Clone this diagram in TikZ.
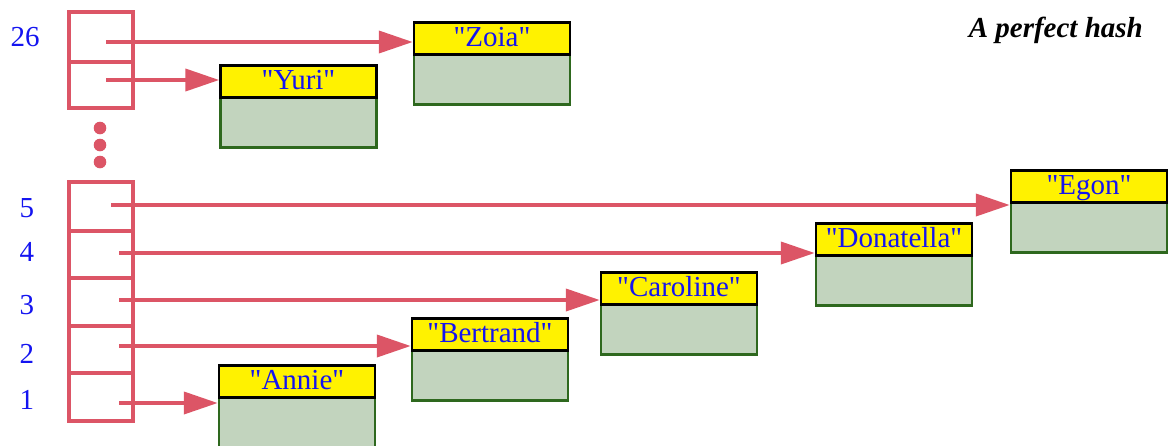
\documentclass[tikz,border=0pt]{standalone}
\usepackage{fontspec}
\setmainfont{Liberation Serif}[Ligatures=TeXOff]
\usetikzlibrary{arrows.meta}
\definecolor{ptrred}{RGB}{220,85,102}
\definecolor{txtblue}{RGB}{20,20,240}
\definecolor{bodyfill}{RGB}{194,212,190}
\definecolor{bodyline}{RGB}{46,104,30}
\newcommand\record[4]{%
  \node[bodyst] (#1b) at (#2,#3+32) {};
  \node[hdr] (#1) at (#2,#3) {#4};}
\begin{document}
\begin{tikzpicture}[x=1pt,y=-1pt,
  arr/.style={draw=ptrred, line width=4.5pt},
  ptr/.style={draw=ptrred, line width=4pt, -{Triangle[length=34pt,width=22pt]}},
  hdr/.style={draw=black, fill=yellow, line width=2.5pt, minimum width=156pt, minimum height=32pt,
    inner sep=0pt, text=txtblue, font=\fontsize{29}{30}\selectfont, text height=21pt, text depth=4pt, anchor=north},
  bodyst/.style={draw=bodyline, fill=bodyfill, line width=2.5pt, minimum width=156pt, minimum height=50pt,
    inner sep=0pt, anchor=north},
  idx/.style={text=txtblue, font=\fontsize{29}{30}\selectfont, inner sep=0pt}]
\useasboundingbox (0,0) rectangle (1170,445);
\clip (0,0) rectangle (1170,445);
% index labels
\node[idx] (l26) at (25,37) {26};
\node[idx] (l5) at (27,208) {5};
\node[idx] (l4) at (27,252) {4};
\node[idx] (l3) at (27,305) {3};
\node[idx] (l2) at (27,354) {2};
\node[idx] (l1) at (27,400) {1};
% title
\node[anchor=base east, inner sep=0pt, font=\fontsize{29}{30}\selectfont\bfseries\itshape] (title) at (1143,37) {A perfect hash};
% top array
\draw[arr] (69,12) rectangle (133,108);
\draw[arr] (69,62) -- (133,62);
% dots
\fill[ptrred] (100,128) circle (6.3);
\fill[ptrred] (100,145) circle (6.3);
\fill[ptrred] (100,162) circle (6.3);
% bottom array
\draw[arr] (69,182) rectangle (133,421);
\foreach \yy in {231,278,326,373} \draw[arr] (67,\yy) -- (131,\yy);
% records
\record{zoia}{492}{21}{"Zoia"}
\record{yuri}{298.5}{64}{"Yuri"}
\record{egon}{1089}{169}{"Egon"}
\record{dona}{894}{222}{"Donatella"}
\record{caro}{679}{271}{"Caroline"}
\record{bert}{490}{317}{"Bertrand"}
\record{annie}{297}{364}{"Annie"}
% pointer origins
\coordinate (p26) at (106,42);
\coordinate (p25) at (106,80);
\coordinate (p5) at (111,205);
\coordinate (p4) at (119,253);
\coordinate (p3) at (119,300);
\coordinate (p2) at (119,346);
\coordinate (p1) at (119,403);
% pointers
\draw[ptr] (p26) -- (p26 -| zoia.west);
\draw[ptr] (p25) -- (p25 -| yuri.west);
\draw[ptr] (p5) -- (p5 -| egon.west);
\draw[ptr] (p4) -- (p4 -| dona.west);
\draw[ptr] (p3) -- (p3 -| caro.west);
\draw[ptr] (p2) -- (p2 -| bert.west);
\draw[ptr] (p1) -- (p1 -| annie.west);
\end{tikzpicture}
\end{document}
